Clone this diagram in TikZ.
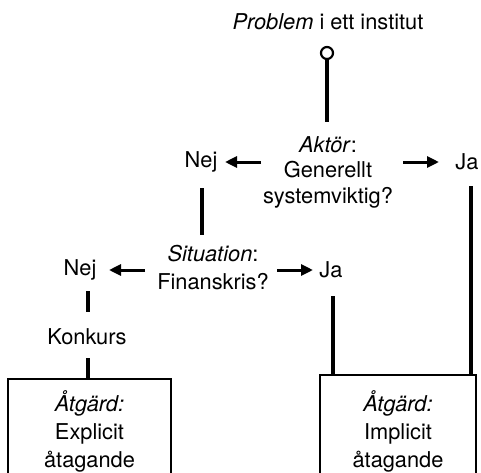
\documentclass[tikz,border=0pt]{standalone}
\usepackage{fontspec}
\setmainfont{TeX Gyre Heros}
\usetikzlibrary{arrows.meta}
\begin{document}
\begin{tikzpicture}[x=1pt,y=-1pt,
  lbl/.style={font=\fontsize{21.8}{25.5}\selectfont, align=center, inner sep=0pt},
  wide/.style={font=\fontsize{21.8}{28}\selectfont},
  conn/.style={line width=3.2pt},
  arr/.style={line width=3pt, -{Triangle[length=12pt,width=11pt]}},
  boxline/.style={draw, line width=2pt}]
\useasboundingbox (0,0) rectangle (481,472);
\node[lbl] (top) at (328,22) {\textit{Problem} i ett institut};
\node[draw, circle, line width=2.2pt, minimum size=12pt, inner sep=0pt] (circ) at (327,53) {};
\coordinate (q1top) at (327,122);
\draw[conn] (circ.south) -- (q1top);
\node[lbl] (q1) at (328,172) {\textit{Aktör}:\\Generellt\\systemviktig?};
\node[lbl] (nej1) at (201,162) {Nej};
\node[lbl] (ja1) at (467,162) {Ja};
\coordinate (a1s) at (261,162); \coordinate (a1e) at (225,162);
\coordinate (a2s) at (403,162); \coordinate (a2e) at (439,162);
\draw[arr] (a1s) -- (a1e);
\draw[arr] (a2s) -- (a2e);
\node[lbl, wide] (sit) at (213,268) {\textit{Situation}:\\Finanskris?};
\coordinate (l1s) at (202,188); \coordinate (l1e) at (202,235);
\draw[conn] (l1s) -- (l1e);
\node[lbl] (nej2) at (80,270) {Nej};
\node[lbl] (ja2) at (331,270) {Ja};
\coordinate (a3s) at (145,270); \coordinate (a3e) at (109,270);
\coordinate (a4s) at (277,270); \coordinate (a4e) at (313,270);
\draw[arr] (a3s) -- (a3e);
\draw[arr] (a4s) -- (a4e);
\node[lbl] (kon) at (87,337) {Konkurs};
\node[boxline, minimum width=163pt, minimum height=97pt, inner sep=0pt] (boxL) at (89.5,427.5) {};
\node[boxline, minimum width=156pt, minimum height=101pt, inner sep=0pt] (boxR) at (398,425.5) {};
\node[lbl, wide] (txtL) at (89.5,431) {\textit{Åtgärd:}\\Explicit\\åtagande};
\node[lbl, wide] (txtR) at (398,431) {\textit{Åtgärd:}\\Implicit\\åtagande};
\coordinate (l2s) at (88,291); \coordinate (l2e) at (88,312);
\draw[conn] (l2s) -- (l2e);
\coordinate (l3s) at (88,358);
\draw[conn] (l3s) -- (l3s |- boxL.north);
\coordinate (l4s) at (333,296);
\draw[conn] (l4s) -- (l4s |- boxR.north);
\coordinate (l5s) at (471,186);
\draw[conn] (l5s) -- (l5s |- boxR.north);
\end{tikzpicture}
\end{document}
